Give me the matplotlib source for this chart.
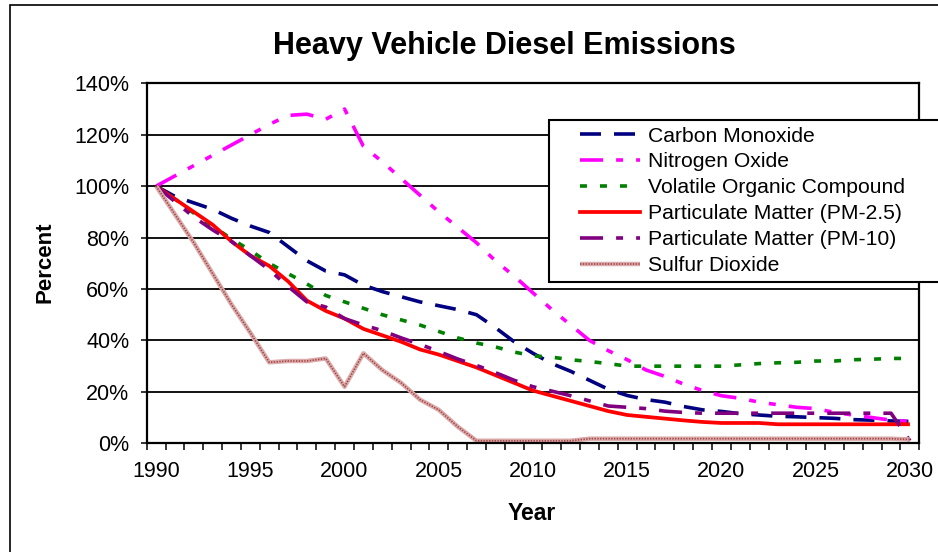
import matplotlib
matplotlib.use("Agg")
import matplotlib.pyplot as plt
from matplotlib.lines import Line2D
from matplotlib.patches import Rectangle
from matplotlib.ticker import FixedLocator, FuncFormatter

plt.rcParams['font.family'] = ['Liberation Sans', 'DejaVu Sans']
plt.rcParams['lines.scale_dashes'] = False

years = list(range(1990, 2031))
series_names = ["Carbon Monoxide", "Nitrogen Oxide", "Volatile Organic Compound",
                "Particulate Matter (PM-2.5)", "Particulate Matter (PM-10)", "Sulfur Dioxide"]

carbon_monoxide = [100, 96, 93.5, 91, 87.5, 84.5, 82, 76.5, 71, 67,
                   65.5, 61.5, 59, 57, 55, 53.5, 52, 50, 45, 39.5,
                   35, 31, 28, 24.5, 21, 18.6, 17, 16, 14.3, 13,
                   12.4, 11.5, 11, 10.5, 10.3, 10, 9.7, 9.2, 9, 8.7, 8.5]
nitrogen_oxide = [100, 104, 108, 112, 116, 120, 124, 127.5, 128, 126,
                  130, 115.5, 109.5, 103, 96.5, 90, 84, 78, 71, 65,
                  58.5, 52, 46, 40, 36, 32.5, 28.5, 26, 23, 20.5,
                  18.5, 17.5, 16, 15, 14, 13.5, 12, 11, 10, 9, 8.5]
voc = [100, 95, 89.5, 84.5, 79.5, 75, 70, 66, 62, 57.5,
       55, 52.5, 50, 48, 46, 43.5, 41, 39, 37.5, 35.5,
       34, 33.5, 32.5, 31.8, 31, 30, 30, 30, 30, 30,
       30, 30.5, 31, 31.3, 31.5, 32, 32, 32.5, 32.7, 33, 33]
pm25 = [100, 95, 90, 85, 78.5, 73, 69, 63, 55.5, 51.5,
        48.5, 44.5, 42, 39.5, 36.5, 34.5, 32, 29.5, 26.5, 23.5,
        20.5, 18.5, 16.5, 14.5, 12.5, 11, 10.3, 9.6, 8.9, 8.3,
        7.9, 7.9, 7.9, 7.4, 7.4, 7.4, 7.4, 7.4, 7.4, 7.4, 7.4]
pm10 = [100, 94, 88, 83, 78.5, 73, 67.5, 61, 55, 53,
        48.5, 46, 43.8, 41, 38.5, 35.7, 32.8, 30.3, 27.5, 24.5,
        22, 20.3, 18.5, 16.5, 14.5, 14, 13.5, 12.5, 12, 11.7,
        11.7, 11.7, 11.7, 11.7, 11.7, 11.7, 11.7, 11.7, 11.7, 11.7, 1]
sulfur_dioxide = [100, 89, 78, 66, 54, 43, 31.5, 32, 32, 33,
                  22, 35, 28.5, 23.5, 17, 13, 6.5, 1, 1, 1,
                  1, 1, 1, 1.8, 1.8, 1.8, 1.8, 1.8, 1.8, 1.8,
                  1.8, 1.8, 1.8, 1.8, 1.8, 1.8, 1.8, 1.8, 1.8, 1.8, 1.5]
y_ticks = [0, 20, 40, 60, 80, 100, 120, 140]
x_label_years = [1990, 1995, 2000, 2005, 2010, 2015, 2020, 2025, 2030]

W, H = 938, 552
fig = plt.figure(figsize=(W / 100, H / 100), dpi=100)
fig.patch.set_facecolor('white')

L, R, T, B = 146.7, 919.3, 83.3, 443.3
ax = fig.add_axes([L / W, 1 - B / H, (R - L) / W, (B - T) / H])

lw = 2.6
styles = [
    dict(color='#000080', lw=lw, dashes=(15.1, 9.4)),
    dict(color='#FF00FF', lw=lw, dashes=(16.6, 9.4, 5, 9.4, 5, 9.4)),
    dict(color='#008000', lw=lw, dashes=(5, 9.4)),
    dict(color='#FF0000', lw=2.7, ls='-'),
    dict(color='#800080', lw=lw, dashes=(16.6, 9.4, 5, 9.4)),
]
data = [carbon_monoxide, nitrogen_oxide, voc, pm25, pm10]
handles = []
for vals, st in zip(data, styles):
    ax.plot(years, vals, solid_capstyle='butt', dash_capstyle='butt', **st)
    handles.append(Line2D([], [], **st))

so2_base = dict(color='#dcaaaa', lw=3.2, solid_capstyle='butt')
so2_dots = dict(color='#a04545', lw=1.2, dashes=(1.0, 1.0))
ax.plot(years, sulfur_dioxide, **so2_base)
ax.plot(years, sulfur_dioxide, **so2_dots)
handles.append((Line2D([], [], **so2_base), Line2D([], [], **so2_dots)))

ax.set_xlim(1989.5, 2030.5)
ax.set_ylim(0, 140)
ax.set_yticks(y_ticks)
ax.yaxis.set_major_formatter(FuncFormatter(lambda v, p: f"{int(v)}%"))
ax.set_xticks(x_label_years)
ax.set_xticklabels([str(y) for y in x_label_years])
ax.xaxis.set_minor_locator(FixedLocator([y - 0.5 for y in years] + [2030.5]))
ax.tick_params(axis='x', which='major', length=0, pad=13, labelsize=15.5)
ax.tick_params(axis='x', which='minor', length=5, width=1.1, direction='out')
ax.tick_params(axis='y', which='major', length=4.5, width=1.1, direction='out', pad=8, labelsize=15.5)
ax.grid(axis='y', color='black', lw=1.3)
ax.set_axisbelow(True)
for s in ax.spines.values():
    s.set_linewidth(1.6)
    s.set_color('black')

fig.text(504 / W, 1 - 46 / H, "Heavy Vehicle Diesel Emissions", ha='center', va='center',
         fontsize=22, fontweight='bold')
fig.text(45 / W, 1 - 262 / H, "Percent", ha='center', va='center', rotation=90,
         fontsize=16, fontweight='bold')
fig.text(532 / W, 1 - 514 / H, "Year", ha='center', va='center',
         fontsize=16.5, fontweight='bold')

# outer chart border
fig.patches.append(Rectangle((10 / W, -0.1), 1.2, 1 - 5 / H + 0.1, transform=fig.transFigure,
                             fill=False, edgecolor='black', lw=1.2, zorder=1))
# legend box
fig.patches.append(Rectangle((549 / W, 1 - 282 / H), 0.5, (282 - 120) / H,
                             transform=fig.transFigure, facecolor='white',
                             edgecolor='black', lw=1.5, zorder=4))
fig.legend(handles, series_names, loc='upper left', bbox_to_anchor=(580 / W, 1 - 126.5 / H),
           frameon=False, handlelength=2.85, handletextpad=0.38, labelspacing=0.33,
           borderpad=0, borderaxespad=0, fontsize=15.2)

fig.savefig("out.png", dpi=100)
